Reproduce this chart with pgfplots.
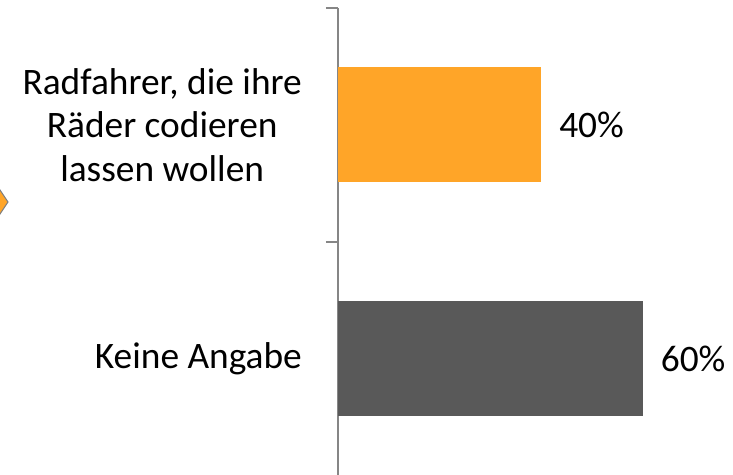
\documentclass[border=0pt]{standalone}
\usepackage{fontspec}
\setmainfont{Carlito}
\usepackage{pgfplots}
\pgfplotsset{compat=1.18}
\definecolor{barorange}{RGB}{255,165,40}
\definecolor{bargray}{RGB}{89,89,89}
\definecolor{axgray}{RGB}{134,134,134}
\begin{document}
\begin{tikzpicture}
\path[use as bounding box] (-338bp,1bp) rectangle (395bp,476bp);
\begin{axis}[
    at={(0,0)}, anchor=south west,
    scale only axis, width=395bp, height=468bp,
    xbar, bar width=115bp, bar shift=0pt,
    xmin=0, xmax=77.8, ymin=-0.5, ymax=1.5,
    axis x line=none, axis y line=left,
    axis line style={-, draw=axgray, line width=1.8bp},
    ytick={0,1},
    yticklabels={{Keine Angabe},{Radfahrer, die ihre\\Räder codieren\\lassen wollen}},
    major tick length=0pt,
    minor ytick={-0.5,0.5,1.5}, minor tick length=12bp, tick align=outside,
    tick style={draw=axgray, line width=1.8bp},
    yticklabel style={align=center, font=\fontsize{37.5}{43.5}\selectfont, inner sep=0pt, xshift=-36bp},
    nodes near coords={\pgfmathprintnumber[assume math mode=true]{\pgfplotspointmeta}\%},
    nodes near coords style={font=\fontsize{37.5}{43}\selectfont, anchor=west, inner sep=0pt, xshift=18bp},
    point meta=x,
]
\addplot[fill=barorange, draw=none] coordinates {(40,1)};
\addplot[fill=bargray, draw=none] coordinates {(60,0)};
\end{axis}
\filldraw[fill=barorange, draw=gray, line width=1bp] (-330bp,274bp) -- (-360bp,319bp) -- (-390bp,274bp) -- (-360bp,229bp) -- cycle;
\end{tikzpicture}
\end{document}
